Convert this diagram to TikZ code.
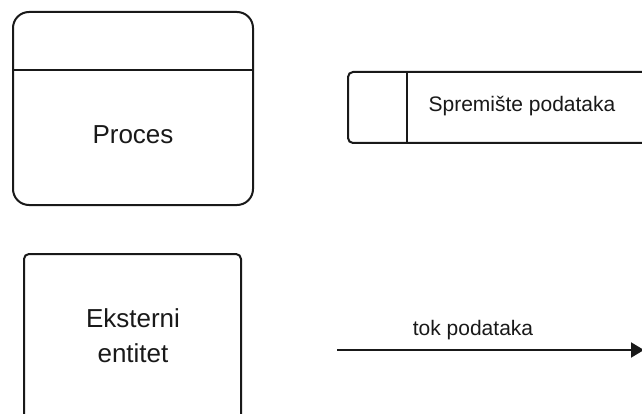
\documentclass[tikz,border=0pt]{standalone}
\usepackage{fontspec}
\setmainfont{Liberation Sans}
\usetikzlibrary{arrows.meta}
\begin{document}
\begin{tikzpicture}[x=1pt,y=-1pt,
  shapeline/.style={draw=black!90,line width=2pt},
  bigtext/.style={font=\fontsize{26}{35}\selectfont,align=center,text=black!90,inner sep=0pt},
  smalltext/.style={font=\fontsize{21}{25}\selectfont,text=black!90,inner sep=0pt}]
\useasboundingbox (0,0) rectangle (642,414);
\clip (0,0) rectangle (642,414);
\fill[white] (0,0) rectangle (642,414);
% Process
\node[shapeline,rounded corners=16pt,minimum width=240pt,minimum height=193pt,inner sep=0pt] (proc) at (133,108.5) {};
\coordinate (divL) at (13,70);
\coordinate (divR) at (253,70);
\draw[shapeline] (divL) -- (divR);
\node[bigtext] (proctext) at (133,135) {Proces};
% Data store
\node[shapeline,rounded corners=5pt,minimum width=304pt,minimum height=71pt,inner sep=0pt] (store) at (500,107.5) {};
\coordinate (sdT) at (407,72);
\coordinate (sdB) at (407,143);
\draw[shapeline] (sdT) -- (sdB);
\node[smalltext] (storetext) at (522,106) {Spremište podataka};
% External entity
\node[shapeline,rounded corners=5pt,minimum width=217pt,minimum height=190pt,inner sep=0pt] (ent) at (132.5,349) {};
\node[bigtext] (enttext) at (133,336) {Eksterni\\entitet};
% Data flow
\coordinate (fs) at (337,350);
\coordinate (fe) at (644,350);
\draw[line width=2pt,draw=black!90,-{Triangle[length=13pt,width=15pt]}] (fs) -- (fe);
\node[smalltext] (flowtext) at (473,330) {tok podataka};
\end{tikzpicture}
\end{document}
